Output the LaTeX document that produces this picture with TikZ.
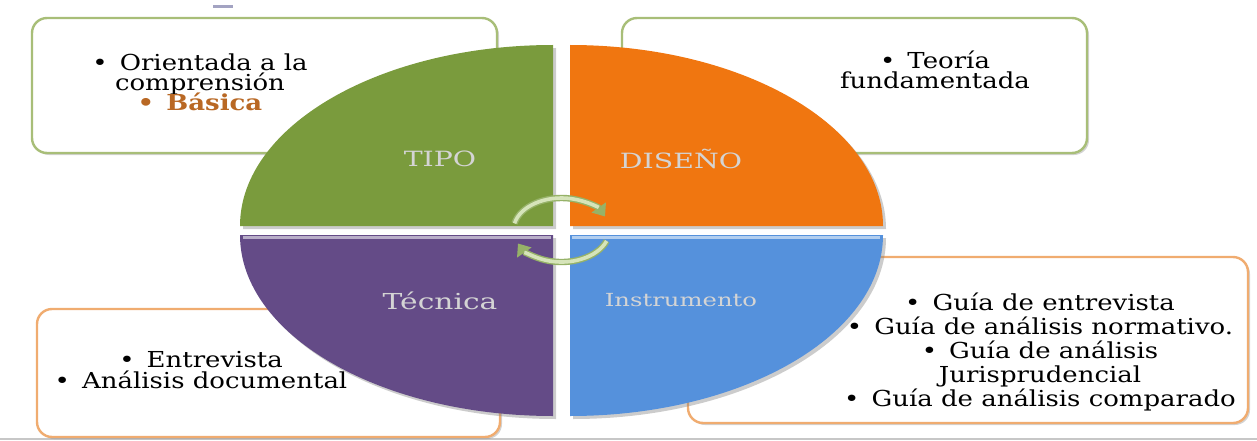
\documentclass[tikz,border=0pt]{standalone}
\usepackage{fontspec}
\newfontfamily\bodyfont[FakeStretch=1.18]{DejaVu Serif}
\newfontfamily\labelfont[FakeStretch=1.35]{DejaVu Serif}
\usetikzlibrary{arrows.meta,shadows}
\lineskiplimit=-10pt

\definecolor{tipocol}{RGB}{122,155,61}
\definecolor{disenocol}{RGB}{240,118,16}
\definecolor{tecnicacol}{RGB}{100,75,135}
\definecolor{instrcol}{RGB}{85,145,220}
\definecolor{boxgreen}{RGB}{168,190,120}
\definecolor{boxorange}{RGB}{240,172,112}
\definecolor{basicacol}{RGB}{185,104,36}
\definecolor{lblgray}{RGB}{212,212,212}
\definecolor{cycedge}{RGB}{150,178,104}
\definecolor{cycfill}{RGB}{214,228,186}

\tikzset{
  greenbox/.style={draw=boxgreen,line width=1.2pt,rounded corners=7.5pt,fill=white,
    drop shadow={shadow xshift=1pt,shadow yshift=-1pt,opacity=.35}},
  orangebox/.style={greenbox,draw=boxorange},
  quad/.style={drop shadow={shadow xshift=1.5pt,shadow yshift=-1.5pt,opacity=.4}},
  lbl/.style={text=lblgray,font=\labelfont\fontsize{10.5}{12}\selectfont},
  list/.style={align=center,text=black,font=\bodyfont\fontsize{11}{#1}\selectfont},
  list/.default=10,
  cyc/.style={line width=3.2pt,draw=cycedge,-{Triangle[width=8.5pt,length=5.5pt]}},
  cycin/.style={line width=1.8pt,draw=cycfill,shorten >=5.5pt},
}
\newcommand{\bul}{\textbullet\hspace{0.55em}}

\begin{document}
\begin{tikzpicture}[x=0.5pt,y=0.5pt]
\useasboundingbox (0,0) rectangle (1257,440);
\draw[black!22,line width=1pt] (0,1.5) -- (1257,1.5);
\draw[blue!20!gray!60,line width=1.5pt] (213,433) -- (233,433);

\draw[greenbox] (32,287) rectangle (497,422);
\draw[greenbox] (622,287) rectangle (1087,422);
\draw[orangebox] (37,3) rectangle (500,131);
\draw[orangebox] (688,17) rectangle (1248,183);

\fill[tipocol,quad] (553,214) -- (240,214) arc[start angle=180,end angle=90,x radius=313,y radius=181] -- cycle;
\fill[disenocol,quad] (570,214) -- (570,395) arc[start angle=90,end angle=0,x radius=313,y radius=181] -- cycle;
\fill[tecnicacol,quad] (553,205) -- (553,24) arc[start angle=270,end angle=180,x radius=313,y radius=181] -- cycle;
\fill[instrcol,quad] (570,205) -- (883,205) arc[start angle=0,end angle=-90,x radius=313,y radius=181] -- cycle;
\draw[tecnicacol!45!white,line width=1.5pt] (243,202.5) -- (551,202.5);
\draw[instrcol!45!white,line width=1.5pt] (572,202.5) -- (880,202.5);

\node[lbl] (tipo) at (440,281) {TIPO};
\node[lbl] (diseno) at (681,281) {DISEÑO};
\node[lbl,font=\labelfont\fontsize{11}{12}\selectfont] (tecnica) at (440,139) {Técnica};
\node[lbl,font=\labelfont\fontsize{9}{11}\selectfont] (instrumento) at (681,140) {Instrumento};

\node[list] (tipoList) at (200,358) {\bul Orientada a la\\comprensión\\{\bfseries\color{basicacol}\bul Básica}};
\node[list] (disenoList) at (935,370) {\bul Teoría\\fundamentada};
\node[list=10.5] (tecnicaList) at (201,70) {\bul Entrevista\\\bul Análisis documental};
\node[list=12] (instrumentoList) at (1040,88) {\bul Guía de entrevista\\\bul Guía de análisis normativo.\\\bul Guía de análisis\\Jurisprudencial\\\bul Guía de análisis comparado};

\coordinate (hub) at (561.5,210);
\draw[cyc] (hub) ++(168:48 and 32) arc[start angle=168,end angle=25,x radius=48,y radius=32];
\draw[cycin] (hub) ++(168:48 and 32) arc[start angle=168,end angle=25,x radius=48,y radius=32];
\draw[cyc] (hub) ++(-20:48 and 32) arc[start angle=-20,end angle=-155,x radius=48,y radius=32];
\draw[cycin] (hub) ++(-20:48 and 32) arc[start angle=-20,end angle=-155,x radius=48,y radius=32];
\end{tikzpicture}
\end{document}
